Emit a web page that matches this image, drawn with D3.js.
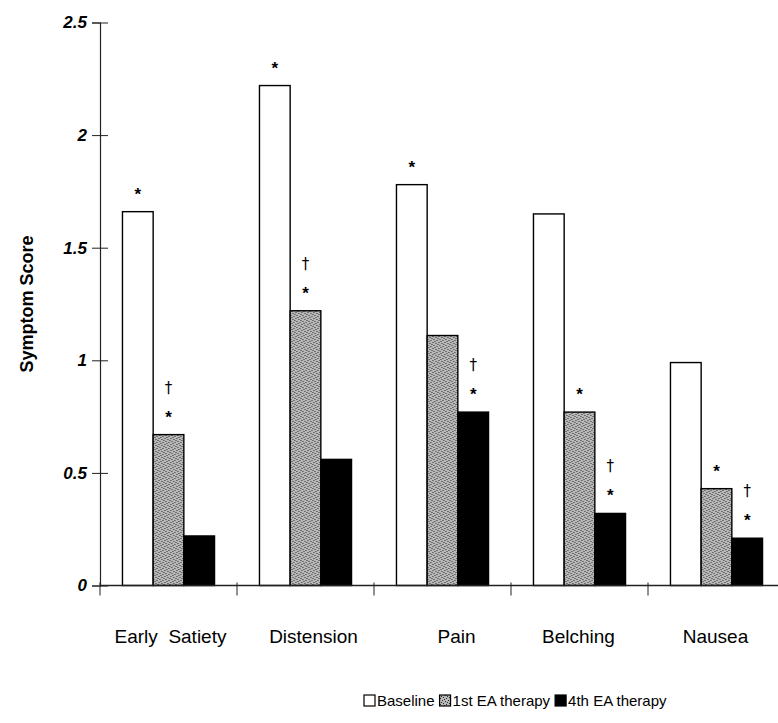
<!DOCTYPE html>
<html>
<head>
<meta charset="utf-8">
<script src="https://cdnjs.cloudflare.com/ajax/libs/d3/7.8.5/d3.min.js"></script>
<style>
  body { margin: 0; background: #fff; }
  svg { display: block; font-family: "Liberation Sans", Arial, Helvetica, sans-serif; }
</style>
</head>
<body>
<svg id="chart" width="778" height="723"></svg>
<script>
// data
const categories = ["Early  Satiety", "Distension", "Pain", "Belching", "Nausea"];
const series = ["Baseline", "1st EA therapy", "4th EA therapy"];
const baseline = [1.66, 2.22, 1.78, 1.65, 0.99];
const firstEA = [0.67, 1.22, 1.11, 0.77, 0.43];
const fourthEA = [0.22, 0.56, 0.77, 0.32, 0.21];
const yTicks = [0, 0.5, 1, 1.5, 2, 2.5];
// significance marks: category index, series index, symbols from bottom up
const marks = [
  { cat: 0, s: 0, sym: ["*"] },
  { cat: 0, s: 1, sym: ["*", "†"] },
  { cat: 1, s: 0, sym: ["*"] },
  { cat: 1, s: 1, sym: ["*", "†"] },
  { cat: 2, s: 0, sym: ["*"] },
  { cat: 2, s: 2, sym: ["*", "†"] },
  { cat: 3, s: 1, sym: ["*"] },
  { cat: 3, s: 2, sym: ["*", "†"] },
  { cat: 4, s: 1, sym: ["*"] },
  { cat: 4, s: 2, sym: ["*", "†"] }
];

const values = [baseline, firstEA, fourthEA];

const svg = d3.select("#chart");

// stippled fill for the 1st EA bars
const pat = svg.append("defs").append("pattern")
  .attr("id", "stipple")
  .attr("width", 6).attr("height", 6)
  .attr("patternUnits", "userSpaceOnUse");
pat.append("rect").attr("width", 6).attr("height", 6).attr("fill", "#b8b8b8");
[[0, 0], [3, 1], [5, 2], [1, 3], [4, 4], [2, 5]].forEach(p => {
  pat.append("rect").attr("x", p[0]).attr("y", p[1])
    .attr("width", 1).attr("height", 1).attr("fill", "#2a2a2a");
});

const fills = ["#fff", "url(#stipple)", "#000"];

const x0 = d3.scaleBand()
  .domain(categories)
  .range([100, 785])
  .paddingInner(0.328)
  .paddingOuter(0.164);

const x1 = d3.scaleBand()
  .domain(series)
  .range([0, x0.bandwidth()]);

const y = d3.scaleLinear()
  .domain([0, 2.5])
  .range([585.5, 22.5]);

// bars
const groups = svg.append("g")
  .selectAll("g")
  .data(categories)
  .enter()
  .append("g")
  .attr("transform", d => `translate(${x0(d)},0)`);

groups.selectAll("rect")
  .data((d, i) => series.map((s, j) => ({ s: s, j: j, v: values[j][i] })))
  .enter()
  .append("rect")
  .attr("x", d => x1(d.s))
  .attr("y", d => y(d.v))
  .attr("width", x1.bandwidth())
  .attr("height", d => y(0) - y(d.v))
  .attr("fill", d => fills[d.j])
  .attr("stroke", "#000")
  .attr("stroke-width", 1.4);

// y axis
const yAxis = svg.append("g")
  .attr("transform", "translate(100,0)")
  .call(d3.axisLeft(y).tickValues(yTicks).tickSizeOuter(0).tickSize(8)
    .tickFormat(d3.format("")));
yAxis.select(".domain").attr("stroke", "#222").attr("stroke-width", 1.2);
yAxis.selectAll(".tick line").attr("x1", -8).attr("x2", 8).attr("stroke", "#222");
yAxis.selectAll(".tick text")
  .attr("x", -13)
  .style("font-family", "'Liberation Sans', Arial, sans-serif")
  .style("font-size", "17px")
  .style("font-weight", "bold")
  .style("font-style", "italic")
  .attr("fill", "#000");

// x axis line with category separators
const step = x0.step();
const pad = (step - x0.bandwidth()) / 2;
svg.append("line")
  .attr("x1", 100).attr("x2", 778)
  .attr("y1", y(0)).attr("y2", y(0))
  .attr("stroke", "#222").attr("stroke-width", 1.4);
svg.append("g")
  .selectAll("line")
  .data(categories)
  .enter()
  .append("line")
  .attr("x1", d => x0(d) - pad).attr("x2", d => x0(d) - pad)
  .attr("y1", y(0) - 3).attr("y2", y(0) + 10)
  .attr("stroke", "#222");

// category labels (the original sets them a little off centre)
const labelShift = [2, 8, 14, -1, -1];
svg.append("g")
  .selectAll("text")
  .data(categories)
  .enter()
  .append("text")
  .attr("x", (d, i) => x0(d) + x0.bandwidth() / 2 + labelShift[i])
  .attr("y", 643)
  .attr("text-anchor", "middle")
  .style("font-size", "19px")
  .style("white-space", "pre")
  .attr("xml:space", "preserve")
  .text(d => d);

// y title
svg.append("text")
  .attr("transform", "translate(33,304) rotate(-90)")
  .attr("text-anchor", "middle")
  .style("font-size", "18px")
  .style("font-weight", "bold")
  .text("Symptom Score");

// significance marks
const markG = svg.append("g");
marks.forEach(m => {
  const cx = x0(categories[m.cat]) + x1(series[m.s]) + x1.bandwidth() / 2;
  const top = y(values[m.s][m.cat]);
  m.sym.forEach(t => {
    if (t === "*") {
      markG.append("text")
        .attr("x", cx).attr("y", top - 21 + 9)
        .attr("text-anchor", "middle")
        .attr("fill", "#000")
        .style("font-size", "17px").style("font-weight", "bold")
        .text(t);
    } else {
      markG.append("text")
        .attr("x", cx).attr("y", top - 47 + 5)
        .attr("text-anchor", "middle")
        .attr("fill", "#000")
        .style("font-family", "'DejaVu Sans', sans-serif")
        .style("font-size", "15px")
        .text(t);
    }
  });
});

// legend
const legend = svg.append("g").attr("transform", "translate(364,706)");
let lx = 0;
series.forEach((s, j) => {
  legend.append("rect")
    .attr("x", lx).attr("y", -11)
    .attr("width", 11).attr("height", 11)
    .attr("fill", fills[j])
    .attr("stroke", "#000").attr("stroke-width", 1.2);
  const t = legend.append("text")
    .attr("x", lx + 13).attr("y", 0)
    .style("font-size", "15px")
    .text(s);
  lx += 13 + t.node().getComputedTextLength() + 5;
});
</script>
</body>
</html>
